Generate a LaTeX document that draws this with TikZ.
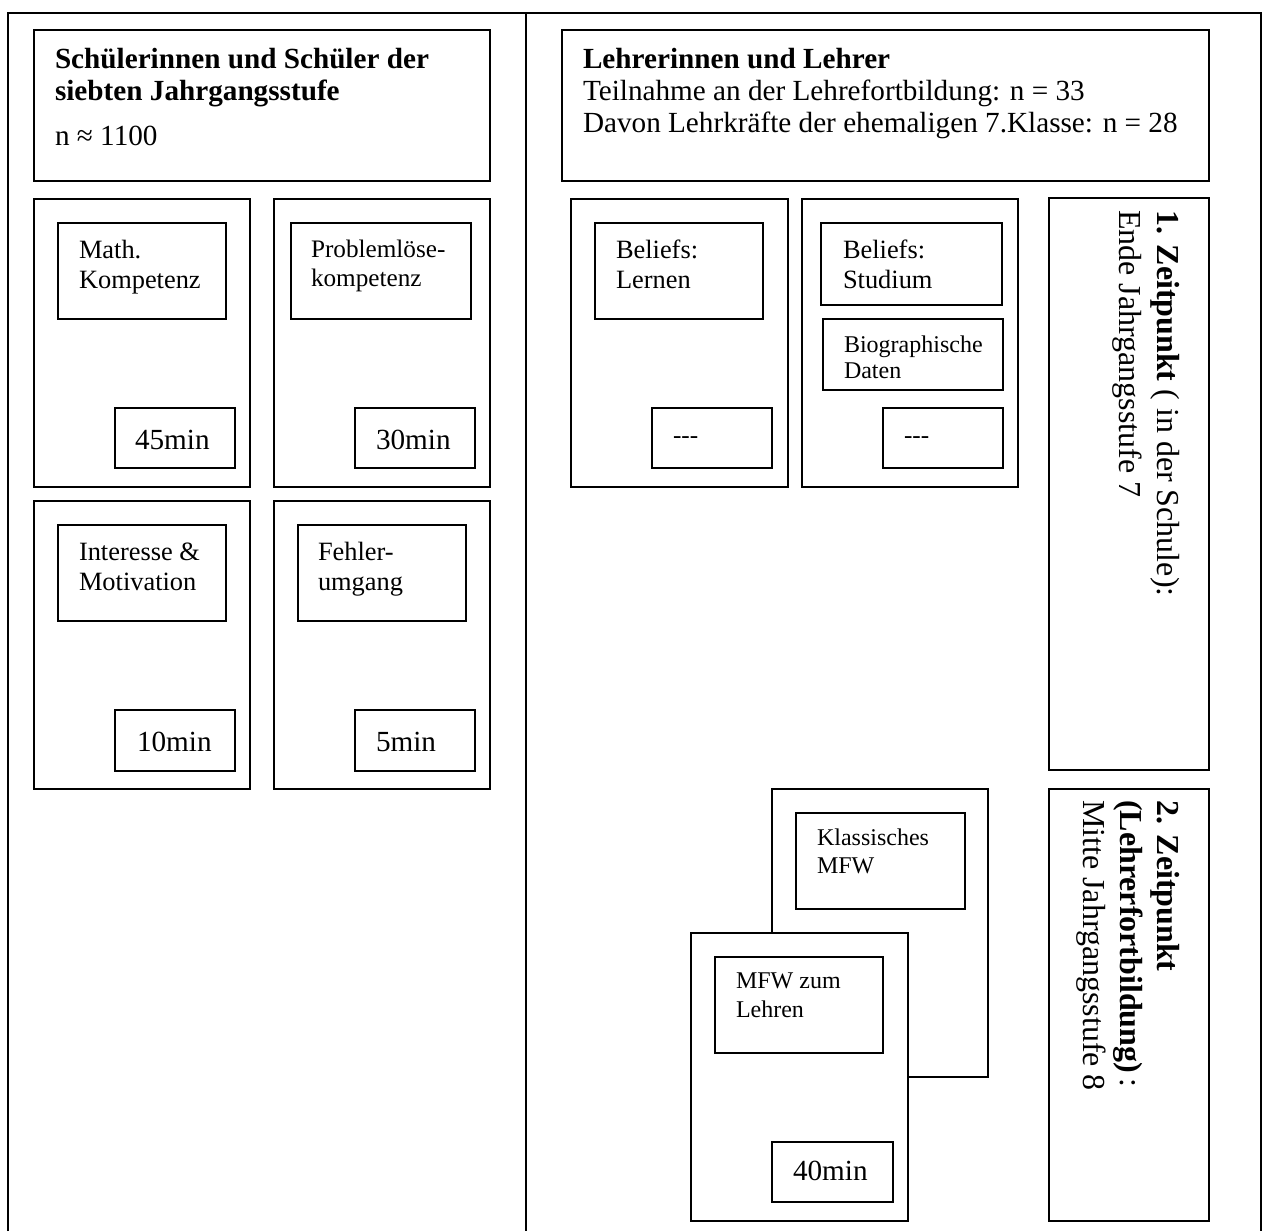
\documentclass[tikz,border=0pt]{standalone}
\usepackage{fontspec}
\setmainfont{Liberation Serif}
\usetikzlibrary{fit}
\tikzset{
  bx/.style={draw, line width=1pt, inner sep=0pt, fill=white},
  txt/.style={anchor=base west, inner sep=0pt, outer sep=0pt},
  vtxt/.style={anchor=base west, inner sep=0pt, outer sep=0pt, rotate=-90},
  fmain/.style={font=\fontsize{14.6}{17}\selectfont},
  fbold/.style={font=\fontsize{14.6}{17}\selectfont\bfseries},
  fmid/.style={font=\fontsize{13.2}{15}\selectfont},
  fsmall/.style={font=\fontsize{12}{14}\selectfont},
  fsmalltwo/.style={font=\fontsize{12.6}{14}\selectfont},
  fvert/.style={font=\fontsize{16}{19}\selectfont},
}
\begin{document}
\begin{tikzpicture}[x=0.5pt,y=-0.5pt]
\useasboundingbox (0,0) rectangle (1262,1231);

% table frame with the column divider
\draw[line width=1.1pt] (8,1231) -- (8,13) -- (1261,13) -- (1261,1231);
\draw[line width=1.1pt] (526,13) -- (526,1231);

% ---------- left column: students ----------
\node[bx, fit={(34,30)(490,181)}] (shead) {};
\node[txt, fbold] (shead1) at (55,68) {Schülerinnen und Schüler der};
\node[txt, fbold] (shead2) at (55,100) {siebten Jahrgangsstufe};
\node[txt, fmain] (shead3) at (55,145) {n ≈ 1100};

% test cards
\node[bx, fit={(34,199)(250,487)}] (c1) {};
\node[bx, fit={(58,223)(226,319)}] (c1l) {};
\node[txt, fmid] (c1a) at (79,258) {Math.};
\node[txt, fmid] (c1b) at (79,288) {Kompetenz};
\node[bx, fit={(115,408)(235,468)}] (c1t) {};
\node[txt, fmain] (c1tt) at (135,449) {45min};

\node[bx, fit={(274,199)(490,487)}] (c2) {};
\node[bx, fit={(291,223)(471,319)}] (c2l) {};
\node[txt, fsmalltwo] (c2a) at (311,257) {Problemlöse-};
\node[txt, fsmalltwo] (c2b) at (311,286) {kompetenz};
\node[bx, fit={(355,408)(475,468)}] (c2t) {};
\node[txt, fmain] (c2tt) at (376,449) {30min};

\node[bx, fit={(34,501)(250,789)}] (c3) {};
\node[bx, fit={(58,525)(226,621)}] (c3l) {};
\node[txt, fmid] (c3a) at (79,560) {Interesse \&};
\node[txt, fmid] (c3b) at (79,590) {Motivation};
\node[bx, fit={(115,710)(235,771)}] (c3t) {};
\node[txt, fmain] (c3tt) at (137,751) {10min};

\node[bx, fit={(274,501)(490,789)}] (c4) {};
\node[bx, fit={(298,525)(466,621)}] (c4l) {};
\node[txt, fmid] (c4a) at (318,560) {Fehler-};
\node[txt, fmid] (c4b) at (318,590) {umgang};
\node[bx, fit={(355,710)(475,771)}] (c4t) {};
\node[txt, fmain] (c4tt) at (376,751) {5min};

% ---------- right column: teachers ----------
\node[bx, fit={(562,30)(1209,181)}] (thead) {};
\node[txt, fbold] (thead1) at (583,68) {Lehrerinnen und Lehrer};
\node[txt, fmain] (thead2) at (583,100) {Teilnahme an der Lehrefortbildung: n = 33};
\node[txt, fmain] (thead3) at (583,132) {Davon Lehrkräfte der ehemaligen 7.Klasse: n = 28};

\node[bx, fit={(571,199)(788,487)}] (d1) {};
\node[bx, fit={(595,223)(763,319)}] (d1l) {};
\node[txt, fmid] (d1a) at (616,258) {Beliefs:};
\node[txt, fmid] (d1b) at (616,288) {Lernen};
\node[bx, fit={(652,408)(772,468)}] (d1t) {};
\node[txt, fsmalltwo] (d1tt) at (673,443) {-{}-{}-};

\node[bx, fit={(802,199)(1018,487)}] (d2) {};
\node[bx, fit={(821,223)(1002,305)}] (d2l) {};
\node[txt, fmid] (d2a) at (843,258) {Beliefs:};
\node[txt, fmid] (d2b) at (843,288) {Studium};
\node[bx, fit={(823,319)(1003,390)}] (d2m) {};
\node[txt, fsmall] (d2c) at (844,352) {Biographische};
\node[txt, fsmall] (d2d) at (844,378) {Daten};
\node[bx, fit={(883,408)(1003,468)}] (d2t) {};
\node[txt, fsmalltwo] (d2tt) at (904,443) {-{}-{}-};

% stacked cards of the second time point
\node[bx, fit={(772,789)(988,1077)}] (e1) {};
\node[bx, fit={(796,813)(965,909)}] (e1l) {};
\node[txt, fsmall] (e1a) at (817,845) {Klassisches};
\node[txt, fsmall] (e1b) at (817,873) {MFW};

\node[bx, fit={(691,933)(908,1221)}] (e2) {};
\node[bx, fit={(715,957)(883,1053)}] (e2l) {};
\node[txt, fsmall] (e2a) at (736,988) {MFW zum};
\node[txt, fsmall] (e2b) at (736,1017) {Lehren};
\node[bx, fit={(772,1142)(893,1202)}] (e2t) {};
\node[txt, fmain] (e2tt) at (793,1180) {40min};

% time points, rotated
\node[bx, fit={(1049,198)(1209,770)}] (z1) {};
\node[vtxt, fvert] (z1a) at (1157,210) {\textbf{1. Zeitpunkt} ( in der Schule):};
\node[vtxt, fvert] (z1b) at (1119,210) {Ende Jahrgangsstufe 7};

\node[bx, fit={(1049,789)(1209,1221)}] (z2) {};
\node[vtxt, fvert] (z2a) at (1157,800) {\textbf{2. Zeitpunkt}};
\node[vtxt, fvert] (z2b) at (1120,800) {\textbf{(Lehrerfortbildung)}\,:};
\node[vtxt, fvert] (z2c) at (1083,800) {Mitte Jahrgangsstufe 8};
\end{tikzpicture}
\end{document}
